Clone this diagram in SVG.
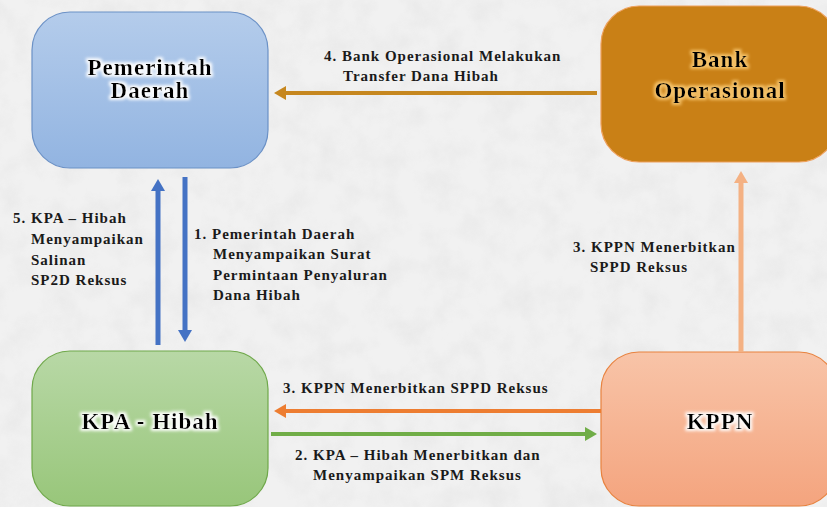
<svg xmlns="http://www.w3.org/2000/svg" width="827" height="507" viewBox="0 0 827 507">
  <style>
    .node-label { font-family: "Liberation Serif", "Times New Roman", serif; font-weight: bold; font-size: 23px; letter-spacing: 1px; fill: #000; text-anchor: middle; }
    .edge-label { font-family: "Liberation Serif", "Times New Roman", serif; font-weight: bold; font-size: 15px; letter-spacing: 1px; fill: #1a1a1a; }
    .box { stroke-width: 1.2; }
    .edge { fill: none; }
  </style>
  <defs>
    <linearGradient id="gBlue" x1="0" y1="0" x2="0" y2="1">
      <stop offset="0" stop-color="#b4cceb"/>
      <stop offset="1" stop-color="#92b4e1"/>
    </linearGradient>
    <linearGradient id="gGreen" x1="0" y1="0" x2="0" y2="1">
      <stop offset="0" stop-color="#b8d8a6"/>
      <stop offset="1" stop-color="#98c67a"/>
    </linearGradient>
    <linearGradient id="gPeach" x1="0" y1="0" x2="0" y2="1">
      <stop offset="0" stop-color="#f8c4a8"/>
      <stop offset="1" stop-color="#f4a47e"/>
    </linearGradient>

    <!-- soft paper texture for the backdrop -->
    <filter id="paper" x="0" y="0" width="100%" height="100%">
      <feTurbulence type="fractalNoise" baseFrequency="0.035" numOctaves="4" seed="7" result="n"/>
      <feColorMatrix in="n" type="matrix" values="0 0 0 0 0.55  0 0 0 0 0.55  0 0 0 0 0.55  0 0 0 -0.9 0.55"/>
    </filter>

    <!-- outer glow behind node titles -->
    <filter id="glowWhite" x="-20%" y="-40%" width="140%" height="180%">
      <feMorphology in="SourceAlpha" operator="dilate" radius="1.6" result="d"/>
      <feGaussianBlur in="d" stdDeviation="1.6" result="b"/>
      <feFlood flood-color="#ffffff" flood-opacity="0.95"/>
      <feComposite in2="b" operator="in" result="g"/>
      <feMerge><feMergeNode in="g"/><feMergeNode in="SourceGraphic"/></feMerge>
    </filter>
    <filter id="glowGold" x="-20%" y="-40%" width="140%" height="180%">
      <feMorphology in="SourceAlpha" operator="dilate" radius="1.6" result="d"/>
      <feGaussianBlur in="d" stdDeviation="1.6" result="b"/>
      <feFlood flood-color="#f6c46c" flood-opacity="0.95"/>
      <feComposite in2="b" operator="in" result="g"/>
      <feMerge><feMergeNode in="g"/><feMergeNode in="SourceGraphic"/></feMerge>
    </filter>

    <marker id="headGold" viewBox="0 0 12 14" markerUnits="userSpaceOnUse" markerWidth="12" markerHeight="14" refX="2" refY="7" orient="auto">
      <path d="M0,0 L12,7 L0,14 z" fill="#c6871f"/>
    </marker>
    <marker id="headBlue" viewBox="0 0 12 14" markerUnits="userSpaceOnUse" markerWidth="12" markerHeight="14" refX="2" refY="7" orient="auto">
      <path d="M0,0 L12,7 L0,14 z" fill="#4472c4"/>
    </marker>
    <marker id="headPeach" viewBox="0 0 12 14" markerUnits="userSpaceOnUse" markerWidth="12" markerHeight="14" refX="2" refY="7" orient="auto">
      <path d="M0,0 L12,7 L0,14 z" fill="#f4b183"/>
    </marker>
    <marker id="headOrange" viewBox="0 0 12 14" markerUnits="userSpaceOnUse" markerWidth="12" markerHeight="14" refX="2" refY="7" orient="auto">
      <path d="M0,0 L12,7 L0,14 z" fill="#ed7d31"/>
    </marker>
    <marker id="headGreen" viewBox="0 0 12 14" markerUnits="userSpaceOnUse" markerWidth="12" markerHeight="14" refX="2" refY="7" orient="auto">
      <path d="M0,0 L12,7 L0,14 z" fill="#70ad47"/>
    </marker>
  </defs>

  <!-- backdrop -->
  <rect x="0" y="0" width="827" height="507" fill="#f1f1f1"/>
  <rect x="0" y="0" width="827" height="507" filter="url(#paper)" opacity="0.35"/>

  <!-- nodes -->
  <g id="pemerintah-daerah">
    <rect class="box" x="32" y="12" width="236" height="156" rx="38" ry="38" fill="url(#gBlue)" stroke="#6b91c6"/>
    <g filter="url(#glowWhite)">
      <text class="node-label" x="150" y="75">Pemerintah</text>
      <text class="node-label" x="150" y="98">Daerah</text>
    </g>
  </g>

  <g id="bank-operasional">
    <rect class="box" x="601" y="6" width="236" height="156" rx="38" ry="38" fill="#c98016" stroke="#eea05c"/>
    <g filter="url(#glowGold)">
      <text class="node-label" x="720" y="67">Bank</text>
      <text class="node-label" x="720" y="98">Operasional</text>
    </g>
  </g>

  <g id="kpa-hibah">
    <rect class="box" x="32" y="351" width="236" height="155" rx="38" ry="38" fill="url(#gGreen)" stroke="#6fa84a"/>
    <g filter="url(#glowWhite)">
      <text class="node-label" x="150" y="429">KPA - Hibah</text>
    </g>
  </g>

  <g id="kppn">
    <rect class="box" x="601" y="352" width="236" height="154" rx="38" ry="38" fill="url(#gPeach)" stroke="#e8823f"/>
    <g filter="url(#glowWhite)">
      <text class="node-label" x="720" y="429">KPPN</text>
    </g>
  </g>

  <!-- connectors -->
  <g id="connectors">
    <path class="edge" d="M597,93 L284,93" stroke="#c6871f" stroke-width="4" marker-end="url(#headGold)"/>
    <path class="edge" d="M158,345 L158,189" stroke="#4472c4" stroke-width="5" marker-end="url(#headBlue)"/>
    <path class="edge" d="M185,177 L185,332" stroke="#4472c4" stroke-width="5" marker-end="url(#headBlue)"/>
    <path class="edge" d="M741,352 L741,181" stroke="#f4b183" stroke-width="5" marker-end="url(#headPeach)"/>
    <path class="edge" d="M601,411 L284,411" stroke="#ed7d31" stroke-width="4" marker-end="url(#headOrange)"/>
    <path class="edge" d="M271,434 L587,434" stroke="#70ad47" stroke-width="4" marker-end="url(#headGreen)"/>
  </g>

  <!-- connector labels -->
  <g id="labels">
    <text class="edge-label" x="324" y="61">4. Bank Operasional Melakukan</text>
    <text class="edge-label" x="343" y="81">Transfer Dana Hibah</text>

    <text class="edge-label" x="13" y="223">5. KPA – Hibah</text>
    <text class="edge-label" x="31" y="244">Menyampaikan</text>
    <text class="edge-label" x="31" y="265">Salinan</text>
    <text class="edge-label" x="31" y="285">SP2D Reksus</text>

    <text class="edge-label" x="194" y="239">1. Pemerintah Daerah</text>
    <text class="edge-label" x="213" y="259">Menyampaikan Surat</text>
    <text class="edge-label" x="213" y="280">Permintaan Penyaluran</text>
    <text class="edge-label" x="213" y="300">Dana Hibah</text>

    <text class="edge-label" x="573" y="252">3. KPPN Menerbitkan</text>
    <text class="edge-label" x="590" y="272">SPPD Reksus</text>

    <text class="edge-label" x="283" y="393">3. KPPN Menerbitkan SPPD Reksus</text>

    <text class="edge-label" x="295" y="460">2. KPA – Hibah Menerbitkan dan</text>
    <text class="edge-label" x="313" y="480">Menyampaikan SPM Reksus</text>
  </g>
</svg>
